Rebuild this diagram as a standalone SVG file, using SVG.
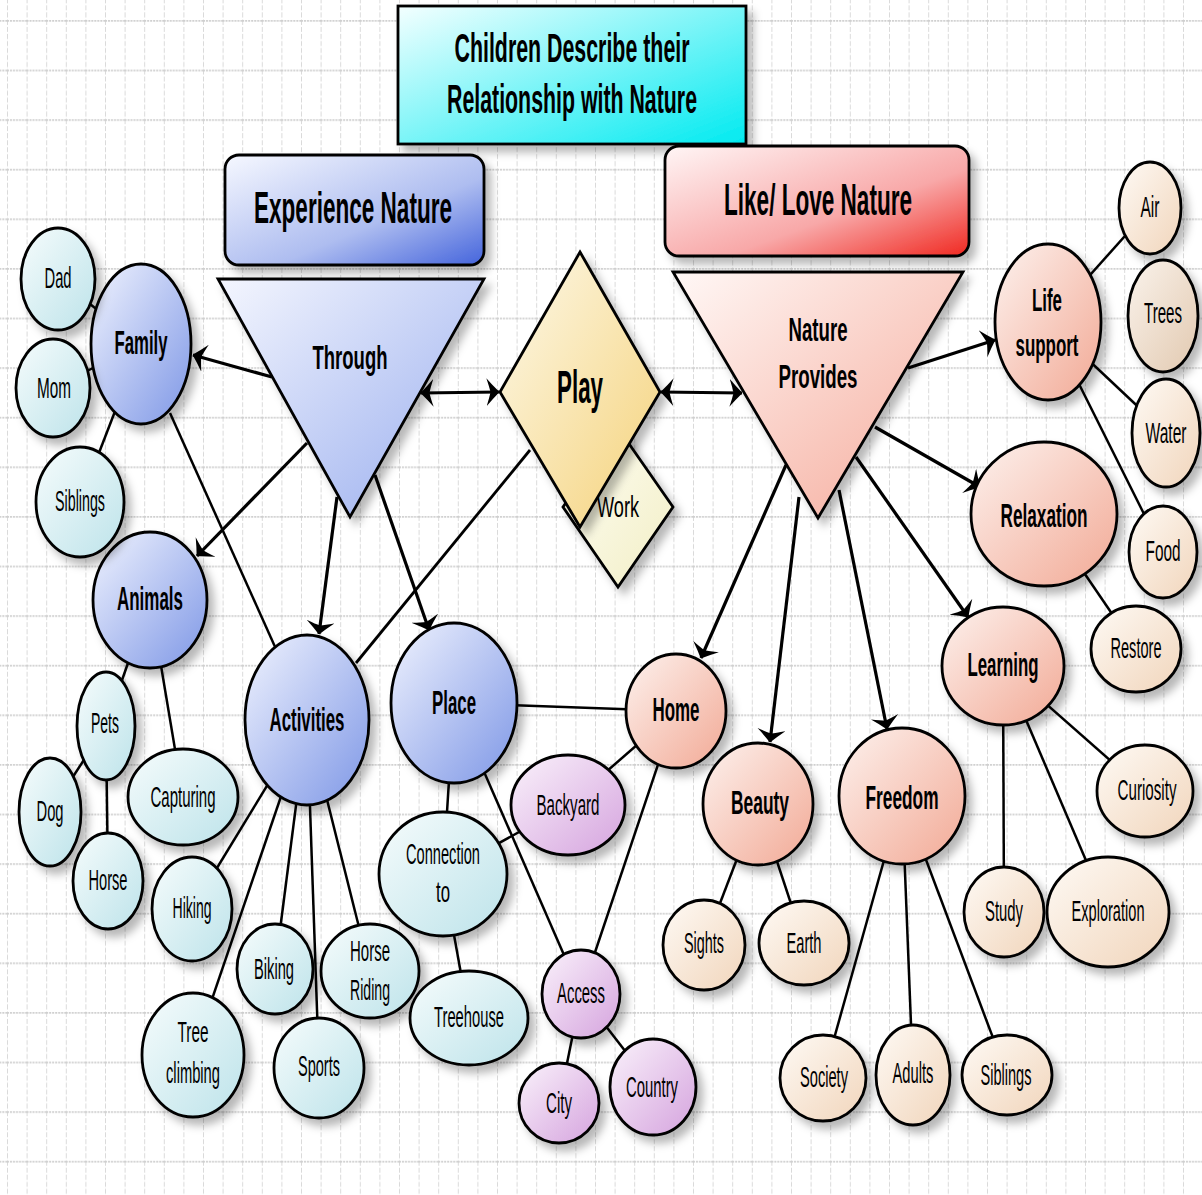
<svg xmlns="http://www.w3.org/2000/svg" width="1202" height="1195" viewBox="0 0 1202 1195">
<style>
.t{font-family:"Liberation Sans",Arial,sans-serif;text-anchor:middle;dominant-baseline:central;fill:#000}
.b{font-weight:bold;font-size:34px}
.r{font-weight:normal;font-size:30px}
.n{stroke:#000;stroke-width:2.8;filter:url(#sh)}
.ln{stroke:#000;stroke-width:2.5;fill:none}
.ar{stroke:#000;stroke-width:3.2;fill:none;marker-end:url(#ah)}
.ar2{stroke:#000;stroke-width:3.2;fill:none;marker-end:url(#ah);marker-start:url(#ah)}
</style>
<defs>
<pattern id="grid" patternUnits="userSpaceOnUse" x="7" y="20" width="19.6" height="49.6">
<line x1="0.5" y1="0" x2="0.5" y2="49.6" stroke="#dadada" stroke-width="1" stroke-dasharray="5 2"/>
<line x1="0" y1="0.8" x2="19.6" y2="0.8" stroke="#cfcfcf" stroke-width="2" stroke-dasharray="2 1"/>
</pattern>
<filter id="sh" x="-20%" y="-20%" width="150%" height="150%">
<feDropShadow dx="6" dy="7" stdDeviation="4" flood-color="#000" flood-opacity="0.28"/>
</filter>
<marker id="ah" markerUnits="userSpaceOnUse" viewBox="0 0 13 28" markerWidth="13" markerHeight="28" refX="12.5" refY="14" orient="auto-start-reverse">
<path d="M13,14 Q6,7 0,0 Q3,9 4,14 Q3,19 0,28 Q6,21 13,14 Z" fill="#000"/>
</marker>
<linearGradient id="gBlue" x1="0" y1="0" x2="1" y2="1"><stop offset="0" stop-color="#f0f3fe"/><stop offset="1" stop-color="#7e97e6"/></linearGradient>
<linearGradient id="gCyan" x1="0" y1="0" x2="1" y2="1"><stop offset="0" stop-color="#f6fcfc"/><stop offset="1" stop-color="#bde3ea"/></linearGradient>
<linearGradient id="gPurple" x1="0" y1="0" x2="1" y2="1"><stop offset="0" stop-color="#faf2fb"/><stop offset="1" stop-color="#d5a3de"/></linearGradient>
<linearGradient id="gSalmon" x1="0" y1="0" x2="1" y2="1"><stop offset="0" stop-color="#fdf2ee"/><stop offset="1" stop-color="#f2a995"/></linearGradient>
<linearGradient id="gPeach" x1="0" y1="0" x2="1" y2="1"><stop offset="0" stop-color="#fefaf5"/><stop offset="1" stop-color="#f1d5bb"/></linearGradient>
<linearGradient id="gTan" x1="0" y1="0" x2="1" y2="1"><stop offset="0" stop-color="#faf3ec"/><stop offset="1" stop-color="#e2c9b0"/></linearGradient>
<linearGradient id="gPlay" x1="0" y1="0" x2="1" y2="1"><stop offset="0" stop-color="#fdf9ea"/><stop offset="1" stop-color="#f5d27a"/></linearGradient>
<linearGradient id="gWork" x1="0" y1="0" x2="1" y2="1"><stop offset="0" stop-color="#fefef6"/><stop offset="1" stop-color="#f2eec4"/></linearGradient>
<linearGradient id="gTitle" x1="0" y1="0" x2="1" y2="1"><stop offset="0" stop-color="#f4ffff"/><stop offset="1" stop-color="#00eaf0"/></linearGradient>
<linearGradient id="gExp" x1="0" y1="0" x2="1" y2="1"><stop offset="0" stop-color="#f6f8ff"/><stop offset="0.6" stop-color="#aebdf0"/><stop offset="1" stop-color="#4464dc"/></linearGradient>
<linearGradient id="gLike" x1="0" y1="0" x2="1" y2="1"><stop offset="0" stop-color="#fff6f6"/><stop offset="0.6" stop-color="#f8a8a8"/><stop offset="1" stop-color="#f02820"/></linearGradient>
<linearGradient id="gThrough" x1="0" y1="0" x2="1" y2="1"><stop offset="0" stop-color="#f4f6fe"/><stop offset="1" stop-color="#97acee"/></linearGradient>
<linearGradient id="gNature" x1="0" y1="0" x2="1" y2="1"><stop offset="0" stop-color="#fff8f6"/><stop offset="1" stop-color="#f5a898"/></linearGradient>
</defs>

<rect x="0" y="0" width="1202" height="1195" fill="#fff"/>
<rect x="0" y="0" width="1202" height="1195" fill="url(#grid)"/>

<g id="connectors">
<line class="ar" x1="272" y1="377" x2="193" y2="355"/>
<line class="ar" x1="307" y1="443" x2="197" y2="556"/>
<line class="ar" x1="337" y1="497" x2="319" y2="634"/>
<line class="ar" x1="375" y1="475" x2="429" y2="630"/>
<line class="ar2" x1="421" y1="393" x2="499" y2="392"/>
<line class="ar2" x1="661" y1="392" x2="742" y2="393"/>
<line class="ar" x1="908" y1="368" x2="995" y2="340"/>
<line class="ar" x1="875" y1="427" x2="980" y2="487"/>
<line class="ar" x1="856" y1="457" x2="968" y2="617"/>
<line class="ar" x1="839" y1="490" x2="887" y2="729"/>
<line class="ar" x1="799" y1="497" x2="770" y2="742"/>
<line class="ar" x1="786" y1="465" x2="701" y2="658"/>
<line class="ln" x1="58" y1="279" x2="141" y2="344"/>
<line class="ln" x1="53" y1="388" x2="141" y2="344"/>
<line class="ln" x1="141" y1="344" x2="80" y2="502"/>
<line class="ln" x1="170" y1="413" x2="276" y2="649"/>
<line class="ln" x1="150" y1="600" x2="106" y2="726"/>
<line class="ln" x1="150" y1="600" x2="183" y2="797"/>
<line class="ln" x1="106" y1="726" x2="50" y2="812"/>
<line class="ln" x1="106" y1="726" x2="108" y2="881"/>
<line class="ln" x1="307" y1="720" x2="192" y2="909"/>
<line class="ln" x1="307" y1="720" x2="193" y2="1055"/>
<line class="ln" x1="307" y1="720" x2="275" y2="969"/>
<line class="ln" x1="307" y1="720" x2="319" y2="1068"/>
<line class="ln" x1="307" y1="720" x2="370" y2="971"/>
<line class="ln" x1="356" y1="663" x2="530" y2="450" style="stroke-width:2.8"/>
<line class="ln" x1="454" y1="703" x2="676" y2="711"/>
<line class="ln" x1="454" y1="703" x2="443" y2="874"/>
<line class="ln" x1="454" y1="703" x2="581" y2="994"/>
<line class="ln" x1="443" y1="874" x2="568" y2="805"/>
<line class="ln" x1="443" y1="874" x2="469" y2="1018"/>
<line class="ln" x1="676" y1="711" x2="568" y2="805"/>
<line class="ln" x1="676" y1="711" x2="581" y2="994"/>
<line class="ln" x1="581" y1="994" x2="559" y2="1103"/>
<line class="ln" x1="581" y1="994" x2="653" y2="1087"/>
<line class="ln" x1="758" y1="804" x2="704" y2="945"/>
<line class="ln" x1="758" y1="804" x2="804" y2="943"/>
<line class="ln" x1="902" y1="796" x2="823" y2="1078"/>
<line class="ln" x1="902" y1="796" x2="913" y2="1075"/>
<line class="ln" x1="902" y1="796" x2="1007" y2="1075"/>
<line class="ln" x1="1003" y1="666" x2="1004" y2="912"/>
<line class="ln" x1="1003" y1="666" x2="1108" y2="912"/>
<line class="ln" x1="1003" y1="666" x2="1145" y2="791"/>
<line class="ln" x1="1044" y1="514" x2="1136" y2="649"/>
<line class="ln" x1="1048" y1="322" x2="1150" y2="208"/>
<line class="ln" x1="1048" y1="322" x2="1166" y2="433"/>
<line class="ln" x1="1048" y1="322" x2="1163" y2="552"/>
</g>

<g id="title"><rect class="n" x="398" y="6" width="348" height="138" fill="url(#gTitle)" stroke-width="3"/>
<text class="t b" transform="matrix(.5 0 0 1 572 48)" style="font-size:40px" textLength="470" lengthAdjust="spacingAndGlyphs">Children Describe their</text>
<text class="t b" transform="matrix(.5 0 0 1 572 99)" style="font-size:40px" textLength="500" lengthAdjust="spacingAndGlyphs">Relationship with Nature</text></g>

<g id="experience-nature"><rect class="n" x="225" y="155" width="259" height="110" rx="14" fill="url(#gExp)" stroke-width="3"/>
<text class="t b" transform="matrix(.5 0 0 1 353 208)" style="font-size:44px" textLength="396" lengthAdjust="spacingAndGlyphs">Experience Nature</text></g>

<g id="like-love-nature"><rect class="n" x="665" y="146" width="304" height="110" rx="14" fill="url(#gLike)" stroke-width="3"/>
<text class="t b" transform="matrix(.5 0 0 1 818 200)" style="font-size:44px" textLength="376" lengthAdjust="spacingAndGlyphs">Like/ Love Nature</text></g>

<g id="through"><polygon class="n" points="218,279 484,279 350,517" fill="url(#gThrough)" stroke-width="3"/>
<text class="t b" transform="matrix(.5 0 0 1 350 358)" textLength="150" lengthAdjust="spacingAndGlyphs">Through</text></g>

<g id="nature-provides"><polygon class="n" points="673,272 963,272 818,518" fill="url(#gNature)" stroke-width="3"/>
<text class="t b" transform="matrix(.5 0 0 1 818 330)" textLength="118" lengthAdjust="spacingAndGlyphs">Nature</text>
<text class="t b" transform="matrix(.5 0 0 1 818 377)" textLength="158" lengthAdjust="spacingAndGlyphs">Provides</text></g>

<g id="work"><polygon class="n" points="618,428 673,507 618,587 563,507" fill="url(#gWork)"/>
<text class="t r" transform="matrix(.5 0 0 1 618 507)" textLength="84" lengthAdjust="spacingAndGlyphs">Work</text></g>

<g id="play"><polygon class="n" points="580,252 660,392 580,527 500,392" fill="url(#gPlay)"/>
<text class="t b" transform="matrix(.5 0 0 1 580 387)" style="font-size:46px" textLength="92" lengthAdjust="spacingAndGlyphs">Play</text></g>

<g id="family"><ellipse class="n" cx="141" cy="344" rx="50" ry="80" fill="url(#gBlue)"/><text class="t b" transform="matrix(.5 0 0 1 141 343)" textLength="106" lengthAdjust="spacingAndGlyphs">Family</text></g>
<g id="animals"><ellipse class="n" cx="150" cy="600" rx="57" ry="68" fill="url(#gBlue)"/><text class="t b" transform="matrix(.5 0 0 1 150 599)" textLength="132" lengthAdjust="spacingAndGlyphs">Animals</text></g>
<g id="activities"><ellipse class="n" cx="307" cy="720" rx="62" ry="85" fill="url(#gBlue)"/><text class="t b" transform="matrix(.5 0 0 1 307 720)" textLength="150" lengthAdjust="spacingAndGlyphs">Activities</text></g>
<g id="place"><ellipse class="n" cx="454" cy="703" rx="63" ry="80" fill="url(#gBlue)"/><text class="t b" transform="matrix(.5 0 0 1 454 703)" textLength="88" lengthAdjust="spacingAndGlyphs">Place</text></g>

<g id="dad"><ellipse class="n" cx="58" cy="279" rx="37" ry="51" fill="url(#gCyan)"/><text class="t r" transform="matrix(.5 0 0 1 58 278)" textLength="54" lengthAdjust="spacingAndGlyphs">Dad</text></g>
<g id="mom"><ellipse class="n" cx="53" cy="388" rx="37" ry="49" fill="url(#gCyan)"/><text class="t r" transform="matrix(.5 0 0 1 54 388)" textLength="68" lengthAdjust="spacingAndGlyphs">Mom</text></g>
<g id="siblings-family"><ellipse class="n" cx="80" cy="502" rx="44" ry="55" fill="url(#gCyan)"/><text class="t r" transform="matrix(.5 0 0 1 80 501)" textLength="100" lengthAdjust="spacingAndGlyphs">Siblings</text></g>
<g id="pets"><ellipse class="n" cx="106" cy="726" rx="29" ry="54" fill="url(#gCyan)"/><text class="t r" transform="matrix(.5 0 0 1 105 723)" textLength="56" lengthAdjust="spacingAndGlyphs">Pets</text></g>
<g id="capturing"><ellipse class="n" cx="183" cy="797" rx="55" ry="48" fill="url(#gCyan)"/><text class="t r" transform="matrix(.5 0 0 1 183 797)" textLength="130" lengthAdjust="spacingAndGlyphs">Capturing</text></g>
<g id="dog"><ellipse class="n" cx="50" cy="812" rx="31" ry="54" fill="url(#gCyan)"/><text class="t r" transform="matrix(.5 0 0 1 50 811)" textLength="54" lengthAdjust="spacingAndGlyphs">Dog</text></g>
<g id="horse"><ellipse class="n" cx="108" cy="881" rx="35" ry="48" fill="url(#gCyan)"/><text class="t r" transform="matrix(.5 0 0 1 108 880)" textLength="78" lengthAdjust="spacingAndGlyphs">Horse</text></g>
<g id="hiking"><ellipse class="n" cx="192" cy="909" rx="40" ry="52" fill="url(#gCyan)"/><text class="t r" transform="matrix(.5 0 0 1 192 908)" textLength="78" lengthAdjust="spacingAndGlyphs">Hiking</text></g>
<g id="tree-climbing"><ellipse class="n" cx="193" cy="1055" rx="51" ry="62" fill="url(#gCyan)"/><text class="t r" transform="matrix(.5 0 0 1 193 1032)" textLength="62" lengthAdjust="spacingAndGlyphs">Tree</text><text class="t r" transform="matrix(.5 0 0 1 193 1073)" textLength="108" lengthAdjust="spacingAndGlyphs">climbing</text></g>
<g id="biking"><ellipse class="n" cx="275" cy="969" rx="38" ry="45" fill="url(#gCyan)"/><text class="t r" transform="matrix(.5 0 0 1 274 969)" textLength="80" lengthAdjust="spacingAndGlyphs">Biking</text></g>
<g id="sports"><ellipse class="n" cx="319" cy="1068" rx="45" ry="50" fill="url(#gCyan)"/><text class="t r" transform="matrix(.5 0 0 1 319 1066)" textLength="84" lengthAdjust="spacingAndGlyphs">Sports</text></g>
<g id="horse-riding"><ellipse class="n" cx="370" cy="971" rx="49" ry="47" fill="url(#gCyan)"/><text class="t r" transform="matrix(.5 0 0 1 370 951)" textLength="80" lengthAdjust="spacingAndGlyphs">Horse</text><text class="t r" transform="matrix(.5 0 0 1 370 990)" textLength="80" lengthAdjust="spacingAndGlyphs">Riding</text></g>
<g id="connection-to"><ellipse class="n" cx="443" cy="874" rx="64" ry="62" fill="url(#gCyan)"/><text class="t r" transform="matrix(.5 0 0 1 443 854)" textLength="148" lengthAdjust="spacingAndGlyphs">Connection</text><text class="t r" transform="matrix(.5 0 0 1 443 892)" textLength="28" lengthAdjust="spacingAndGlyphs">to</text></g>
<g id="treehouse"><ellipse class="n" cx="469" cy="1018" rx="59" ry="47" fill="url(#gCyan)"/><text class="t r" transform="matrix(.5 0 0 1 469 1017)" textLength="140" lengthAdjust="spacingAndGlyphs">Treehouse</text></g>

<g id="backyard"><ellipse class="n" cx="568" cy="805" rx="57" ry="50" fill="url(#gPurple)"/><text class="t r" transform="matrix(.5 0 0 1 568 805)" textLength="126" lengthAdjust="spacingAndGlyphs">Backyard</text></g>
<g id="access"><ellipse class="n" cx="581" cy="994" rx="39" ry="44" fill="url(#gPurple)"/><text class="t r" transform="matrix(.5 0 0 1 581 993)" textLength="96" lengthAdjust="spacingAndGlyphs">Access</text></g>
<g id="city"><ellipse class="n" cx="559" cy="1103" rx="40" ry="40" fill="url(#gPurple)"/><text class="t r" transform="matrix(.5 0 0 1 559 1103)" textLength="52" lengthAdjust="spacingAndGlyphs">City</text></g>
<g id="country"><ellipse class="n" cx="653" cy="1087" rx="43" ry="48" fill="url(#gPurple)"/><text class="t r" transform="matrix(.5 0 0 1 652 1087)" textLength="104" lengthAdjust="spacingAndGlyphs">Country</text></g>

<g id="home"><ellipse class="n" cx="676" cy="711" rx="50" ry="57" fill="url(#gSalmon)"/><text class="t b" transform="matrix(.5 0 0 1 676 710)" textLength="94" lengthAdjust="spacingAndGlyphs">Home</text></g>
<g id="beauty"><ellipse class="n" cx="758" cy="804" rx="55" ry="61" fill="url(#gSalmon)"/><text class="t b" transform="matrix(.5 0 0 1 760 803)" textLength="116" lengthAdjust="spacingAndGlyphs">Beauty</text></g>
<g id="freedom"><ellipse class="n" cx="902" cy="796" rx="63" ry="68" fill="url(#gSalmon)"/><text class="t b" transform="matrix(.5 0 0 1 902 798)" textLength="146" lengthAdjust="spacingAndGlyphs">Freedom</text></g>
<g id="relaxation"><ellipse class="n" cx="1044" cy="514" rx="73" ry="72" fill="url(#gSalmon)"/><text class="t b" transform="matrix(.5 0 0 1 1044 516)" textLength="174" lengthAdjust="spacingAndGlyphs">Relaxation</text></g>
<g id="learning"><ellipse class="n" cx="1003" cy="666" rx="61" ry="59" fill="url(#gSalmon)"/><text class="t b" transform="matrix(.5 0 0 1 1003 665)" textLength="142" lengthAdjust="spacingAndGlyphs">Learning</text></g>
<g id="life-support"><ellipse class="n" cx="1048" cy="322" rx="53" ry="78" fill="url(#gSalmon)"/><text class="t b" transform="matrix(.5 0 0 1 1047 300)" style="font-size:32px" textLength="60" lengthAdjust="spacingAndGlyphs">Life</text><text class="t b" transform="matrix(.5 0 0 1 1047 345)" style="font-size:32px" textLength="126" lengthAdjust="spacingAndGlyphs">support</text></g>

<g id="air"><ellipse class="n" cx="1150" cy="208" rx="31" ry="46" fill="url(#gPeach)"/><text class="t r" transform="matrix(.5 0 0 1 1150 207)" textLength="38" lengthAdjust="spacingAndGlyphs">Air</text></g>
<g id="trees"><ellipse class="n" cx="1163" cy="316" rx="35" ry="56" fill="url(#gTan)"/><text class="t r" transform="matrix(.5 0 0 1 1163 313)" textLength="76" lengthAdjust="spacingAndGlyphs">Trees</text></g>
<g id="water"><ellipse class="n" cx="1166" cy="433" rx="34" ry="54" fill="url(#gPeach)"/><text class="t r" transform="matrix(.5 0 0 1 1166 433)" textLength="82" lengthAdjust="spacingAndGlyphs">Water</text></g>
<g id="food"><ellipse class="n" cx="1163" cy="552" rx="34" ry="46" fill="url(#gPeach)"/><text class="t r" transform="matrix(.5 0 0 1 1163 551)" textLength="70" lengthAdjust="spacingAndGlyphs">Food</text></g>
<g id="restore"><ellipse class="n" cx="1136" cy="649" rx="45" ry="43" fill="url(#gPeach)"/><text class="t r" transform="matrix(.5 0 0 1 1136 648)" textLength="102" lengthAdjust="spacingAndGlyphs">Restore</text></g>
<g id="curiosity"><ellipse class="n" cx="1145" cy="791" rx="48" ry="46" fill="url(#gPeach)"/><text class="t r" transform="matrix(.5 0 0 1 1147 790)" textLength="118" lengthAdjust="spacingAndGlyphs">Curiosity</text></g>
<g id="study"><ellipse class="n" cx="1004" cy="912" rx="40" ry="45" fill="url(#gPeach)"/><text class="t r" transform="matrix(.5 0 0 1 1004 911)" textLength="76" lengthAdjust="spacingAndGlyphs">Study</text></g>
<g id="exploration"><ellipse class="n" cx="1108" cy="912" rx="61" ry="55" fill="url(#gPeach)"/><text class="t r" transform="matrix(.5 0 0 1 1108 911)" textLength="146" lengthAdjust="spacingAndGlyphs">Exploration</text></g>
<g id="sights"><ellipse class="n" cx="704" cy="945" rx="41" ry="45" fill="url(#gPeach)"/><text class="t r" transform="matrix(.5 0 0 1 704 943)" textLength="80" lengthAdjust="spacingAndGlyphs">Sights</text></g>
<g id="earth"><ellipse class="n" cx="804" cy="943" rx="45" ry="42" fill="url(#gPeach)"/><text class="t r" transform="matrix(.5 0 0 1 804 943)" textLength="70" lengthAdjust="spacingAndGlyphs">Earth</text></g>
<g id="society"><ellipse class="n" cx="823" cy="1078" rx="43" ry="43" fill="url(#gPeach)"/><text class="t r" transform="matrix(.5 0 0 1 824 1077)" textLength="96" lengthAdjust="spacingAndGlyphs">Society</text></g>
<g id="adults"><ellipse class="n" cx="913" cy="1075" rx="37" ry="50" fill="url(#gPeach)"/><text class="t r" transform="matrix(.5 0 0 1 913 1073)" textLength="82" lengthAdjust="spacingAndGlyphs">Adults</text></g>
<g id="siblings-freedom"><ellipse class="n" cx="1007" cy="1075" rx="45" ry="40" fill="url(#gPeach)"/><text class="t r" transform="matrix(.5 0 0 1 1006 1075)" textLength="102" lengthAdjust="spacingAndGlyphs">Siblings</text></g>
</svg>
